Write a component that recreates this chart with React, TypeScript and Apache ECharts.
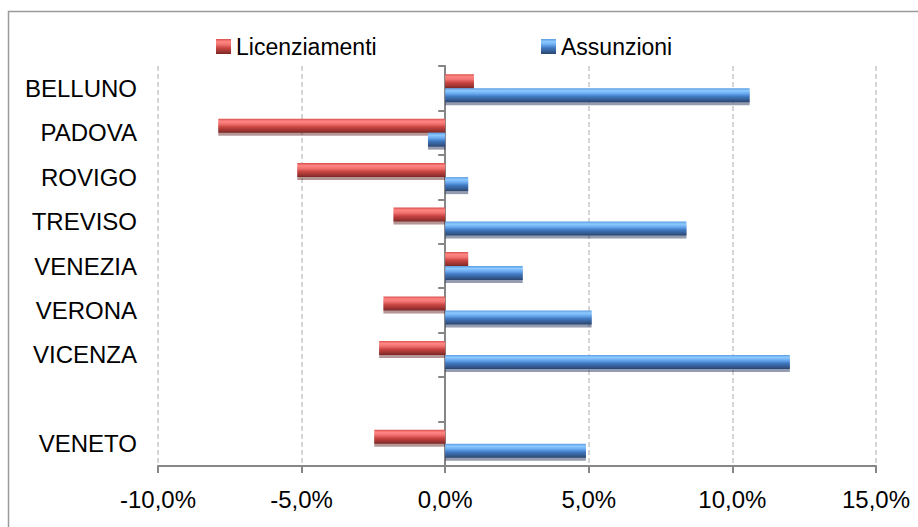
import React, { useEffect, useRef } from "react";
import * as echarts from "echarts";

const categories = ["BELLUNO", "PADOVA", "ROVIGO", "TREVISO", "VENEZIA", "VERONA", "VICENZA", "", "VENETO"];
const licenziamenti: (number | null)[] = [1.0, -7.9, -5.15, -1.8, 0.8, -2.15, -2.3, null, -2.47];
const assunzioni: (number | null)[] = [10.6, -0.6, 0.8, 8.4, 2.7, 5.1, 12.0, null, 4.9];
const xMin = -10;
const xMax = 15;
const xStep = 5;

const FONT = "'Liberation Sans', Arial, sans-serif";

const redGrad = new echarts.graphic.LinearGradient(0, 0, 0, 1, [
  { offset: 0, color: "#d9504d" },
  { offset: 0.18, color: "#ff8684" },
  { offset: 0.38, color: "#f07270" },
  { offset: 0.6, color: "#c94441" },
  { offset: 0.85, color: "#9a3431" },
  { offset: 1, color: "#7a2624" },
]);
const blueGrad = new echarts.graphic.LinearGradient(0, 0, 0, 1, [
  { offset: 0, color: "#5a9be3" },
  { offset: 0.18, color: "#8dcaff" },
  { offset: 0.38, color: "#6aaaf0" },
  { offset: 0.6, color: "#3f78c0" },
  { offset: 0.85, color: "#34598e" },
  { offset: 1, color: "#2a456e" },
]);

export default function App() {
  const ref = useRef<HTMLDivElement>(null);
  useEffect(() => {
    if (!ref.current) return;
    const chart = echarts.init(ref.current, undefined, { renderer: "svg" });
    const fmt = (v: number) => v.toFixed(1).replace(".", ",") + "%";
    chart.setOption({
      animation: false,
      backgroundColor: "#ffffff",
      graphic: [
        {
          type: "rect",
          shape: { x: 8.5, y: 11.5, width: 930, height: 540 },
          style: { fill: "none", stroke: "#9a9a9a", lineWidth: 1.5 },
          silent: true,
        },
      ],
      legend: [
        {
          data: ["Licenziamenti"],
          left: 211,
          top: 30,
          itemWidth: 15,
          itemHeight: 15,
          icon: "rect",
          textStyle: { fontFamily: FONT, fontSize: 23, color: "#000" },
        },
        {
          data: ["Assunzioni"],
          left: 536,
          top: 30,
          itemWidth: 15,
          itemHeight: 15,
          icon: "rect",
          textStyle: { fontFamily: FONT, fontSize: 23, color: "#000" },
        },
      ],
      grid: { left: 158, right: 42, top: 66, bottom: 61, containLabel: false },
      xAxis: {
        type: "value",
        min: xMin,
        max: xMax,
        interval: xStep,
        axisLine: { show: true, onZero: false, lineStyle: { color: "#868686", width: 2 } },
        axisTick: { show: true, length: 7, lineStyle: { color: "#868686", width: 2 } },
        axisLabel: {
          formatter: fmt,
          fontFamily: FONT,
          fontSize: 24,
          color: "#000",
          margin: 21,
        },
        splitLine: { show: true, lineStyle: { color: "#c8c8c8", type: [5, 3], width: 1.5 } },
      },
      yAxis: [
        {
          type: "category",
          data: categories,
          inverse: true,
          axisLine: { show: false, onZero: false },
          axisTick: { show: false },
          axisLabel: {
            fontFamily: FONT,
            fontSize: 24,
            color: "#000",
            margin: 21,
          },
          splitLine: { show: false },
        },
        {
          type: "category",
          data: categories,
          inverse: true,
          position: "left",
          axisLine: { show: true, onZero: true, onZeroAxisIndex: 0, lineStyle: { color: "#868686", width: 2 } },
          axisTick: { show: true, length: 7, lineStyle: { color: "#868686", width: 2 } },
          axisLabel: { show: false },
          splitLine: { show: false },
        },
      ],
      series: [
        {
          name: "Licenziamenti",
          type: "bar",
          yAxisIndex: 0,
          data: licenziamenti,
          barWidth: 14,
          barGap: "0%",
          itemStyle: {
            color: redGrad,
            shadowColor: "rgba(90,20,20,0.45)",
            shadowOffsetY: 3,
            shadowBlur: 0,
          },
        },
        {
          name: "Assunzioni",
          type: "bar",
          yAxisIndex: 0,
          data: assunzioni,
          barWidth: 14,
          barGap: "0%",
          itemStyle: {
            color: blueGrad,
            shadowColor: "rgba(20,40,80,0.45)",
            shadowOffsetY: 3,
            shadowBlur: 0,
          },
        },
      ],
    });
    return () => chart.dispose();
  }, []);
  return (
    <div
      ref={ref}
      style={{ position: "fixed", left: 0, top: 0, width: 918, height: 527 }}
    />
  );
}
